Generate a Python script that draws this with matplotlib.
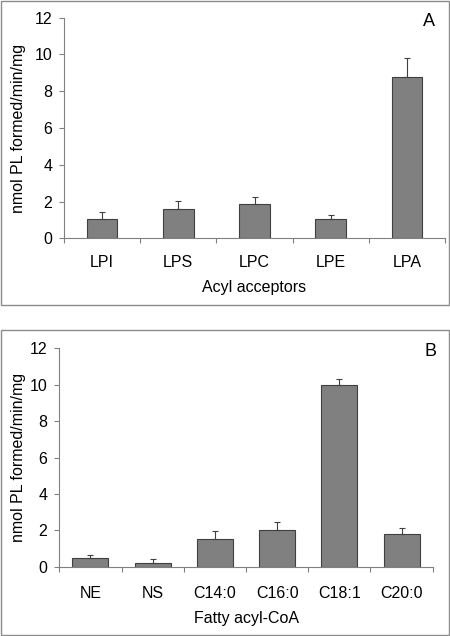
import matplotlib
matplotlib.use("Agg")
import matplotlib.pyplot as plt
from matplotlib.patches import Rectangle

plt.rcParams['font.family'] = ['Liberation Sans', 'DejaVu Sans']

cats_a = ["LPI", "LPS", "LPC", "LPE", "LPA"]
vals_a = [1.07, 1.58, 1.86, 1.04, 8.79]
errs_a = [0.37, 0.46, 0.36, 0.24, 1.0]

cats_b = ["NE", "NS", "C14:0", "C16:0", "C18:1", "C20:0"]
vals_b = [0.47, 0.23, 1.51, 2.01, 10.01, 1.82]
errs_b = [0.2, 0.17, 0.44, 0.42, 0.28, 0.28]

W, H = 450, 636
fig = plt.figure(figsize=(W / 100, H / 100), dpi=100)

# panel borders
for (x0, y0, x1, y1) in [(0.5, 0.5, 449, 305), (0.5, 330, 449, 635)]:
    fig.add_artist(Rectangle((x0 / W, 1 - y1 / H), (x1 - x0) / W, (y1 - y0) / H,
                             transform=fig.transFigure, fill=False,
                             edgecolor="#8c8c8c", linewidth=1.0))

axcol = "#808080"
FS = 11.5

def panel(rect, cats, vals, errs, width, xlabel, letter, letter_xy, tpad):
    l, t, r, b = rect
    ax = fig.add_axes([l / W, 1 - b / H, (r - l) / W, (b - t) / H])
    x = list(range(len(cats)))
    ax.bar(x, vals, width=width, color="#808080", edgecolor="#404040", linewidth=0.8, zorder=2)
    ax.errorbar(x, vals, yerr=[[0] * len(errs), errs], fmt="none", ecolor="#404040",
                elinewidth=0.8, capsize=2, capthick=0.8, zorder=3)
    ax.set_xlim(-0.5, len(cats) - 0.5)
    ax.set_ylim(0, 12)
    ax.set_yticks([0, 2, 4, 6, 8, 10, 12])
    ax.set_xticks(x)
    ax.set_xticklabels(cats, fontsize=FS)
    ax.set_xticks([i - 0.5 for i in range(len(cats) + 1)], minor=True)
    ax.tick_params(axis="x", which="major", length=0, pad=tpad)
    ax.tick_params(axis="x", which="minor", length=3.5, color=axcol, width=0.8)
    ax.tick_params(axis="y", length=3.5, color=axcol, width=0.8, labelsize=FS, pad=5)
    for s in ["top", "right"]:
        ax.spines[s].set_visible(False)
    for s in ["left", "bottom"]:
        ax.spines[s].set_color(axcol)
        ax.spines[s].set_linewidth(0.8)
    ax.set_ylabel("nmol PL formed/min/mg", fontsize=FS)
    ax.yaxis.set_label_coords(26 / W, 1 - (t + b) / 2 / H, transform=fig.transFigure)
    ax.set_xlabel(xlabel, fontsize=FS, labelpad=7)
    fig.text(letter_xy[0] / W, 1 - letter_xy[1] / H, letter, ha="center", va="center", fontsize=13)
    return ax

panel((64, 17.7, 445, 238.3), cats_a, vals_a, errs_a, 0.4, "Acyl acceptors", "A", (429, 22), 12)
panel((59.3, 348.3, 432.7, 566.7), cats_b, vals_b, errs_b, 0.58, "Fatty acyl-CoA", "B", (430, 352), 14)

fig.savefig("out.png", dpi=100)
